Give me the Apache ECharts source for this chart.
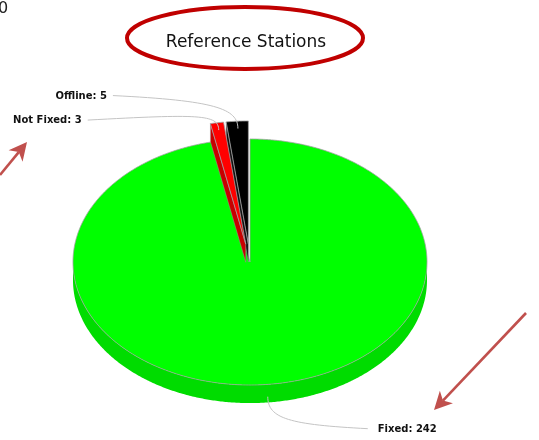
<!DOCTYPE html>
<html><head><meta charset="utf-8">
<script src="https://cdn.jsdelivr.net/npm/echarts@6/dist/echarts.min.js"></script>
<style>html,body{margin:0;padding:0;background:#fff;overflow:hidden}#c{width:539px;height:440px}</style>
</head><body><div id="c"></div>
<script>
// ---- data ----
const categories = ['Offline', 'Not Fixed', 'Fixed'];
const values = [5, 3, 242];
const titleText = 'Reference Stations';

// ---- styles ----
const colors = ['#000000', '#ff0000', '#00ff00'];
const sideColors = ['#111111', '#c80000', '#00dc00'];
const drawOrder = [2, 0, 1];
const DEPTH = 0.147;
const explode = [0.147, 0.147, 0];
const leader = [
  {r: 0.94, drop: 0, cp1: [0, -20], cp2: [-23, -28], end: [-125, -33], align: 'right', gap: -6},
  {r: 0.94, drop: 0, cp1: [0, -16], cp2: [-20, -16], end: [-131, -10], align: 'right', gap: -6},
  {r: 1, drop: 0.1, cp1: [0, 22], cp2: [22, 28], end: [100, 32], align: 'left', gap: 10}
];

const total = values.reduce((a, b) => a + b, 0);
const slices = [];
let acc = 90;
values.forEach(v => { const span = v / total * 360; slices.push({start: acc, end: acc + span, mid: acc + span / 2}); acc += span; });

const rad = d => d * Math.PI / 180;

function renderItem(params, api) {
  const i = api.value(0);
  const s = slices[i];
  const e = explode[i];
  const ox = Math.cos(rad(s.mid)) * e, oy = Math.sin(rad(s.mid)) * e;
  const P = (a, r, dz) => api.coord([ox + r * Math.cos(rad(a)), oy + r * Math.sin(rad(a)) - (dz || 0)]);
  const arcPts = (a0, a1, dz) => {
    const pts = []; const n = Math.max(2, Math.ceil(Math.abs(a1 - a0) * 2));
    for (let k = 0; k <= n; k++) pts.push(P(a0 + (a1 - a0) * k / n, 1, dz));
    return pts;
  };
  const children = [];
  for (let k = -1; k <= 1; k++) {
    const lo = Math.max(s.start, 180 + 360 * k), hi = Math.min(s.end, 360 + 360 * k);
    if (lo < hi) {
      const pts = arcPts(lo, hi, 0).concat(arcPts(lo, hi, DEPTH).reverse());
      children.push({type: 'polygon', shape: {points: pts}, style: {fill: sideColors[i], stroke: null}});
    }
  }
  if (e > 0) {
    if (Math.sin(rad(s.end + 90)) < -1e-6) {
      children.push({type: 'polygon', shape: {points: [P(s.end, 0, 0), P(s.end, 1, 0), P(s.end, 1, DEPTH), P(s.end, 0, DEPTH)]},
        style: {fill: sideColors[i], stroke: '#999', lineWidth: 0.5}});
    }
    if (Math.sin(rad(s.start - 90)) < -1e-6) {
      children.push({type: 'polygon', shape: {points: [P(s.start, 0, 0), P(s.start, 1, 0), P(s.start, 1, DEPTH), P(s.start, 0, DEPTH)]},
        style: {fill: sideColors[i], stroke: '#999', lineWidth: 0.5}});
    }
  }
  const top = [P(s.mid, 0, 0)].concat(arcPts(s.start, s.end, 0));
  children.push({type: 'polygon', shape: {points: top}, style: {fill: colors[i], stroke: '#a0a0a0', lineWidth: 0.8}});
  const L = leader[i];
  const S = P(s.mid, L.r, L.drop);
  const E = [S[0] + L.end[0], S[1] + L.end[1]];
  children.push({type: 'bezierCurve', shape: {x1: S[0], y1: S[1], cpx1: S[0] + L.cp1[0], cpy1: S[1] + L.cp1[1],
    cpx2: S[0] + L.cp2[0], cpy2: S[1] + L.cp2[1], x2: E[0], y2: E[1]}, style: {fill: null, stroke: '#c4c4c4', lineWidth: 1}});
  children.push({type: 'text', x: E[0] + L.gap, y: E[1] + 0.5, style: {text: categories[i] + ': ' + values[i],
    font: 'bold 10px "DejaVu Sans"', fill: '#111', align: L.align, textAlign: L.align, verticalAlign: 'middle', textVerticalAlign: 'middle'}});
  return {type: 'group', children};
}

function arrow(x0, y0, x1, y1) {
  const dx = x1 - x0, dy = y1 - y0, len = Math.hypot(dx, dy);
  const ux = dx / len, uy = dy / len, nx = -uy, ny = ux;
  const hl = 18, hw = 9;
  const bx = x1 - ux * hl, by = y1 - uy * hl;
  const nxb = x1 - ux * (hl - 5), nyb = y1 - uy * (hl - 5);
  return [
    {type: 'line', shape: {x1: x0, y1: y0, x2: nxb, y2: nyb}, style: {stroke: '#c0504d', lineWidth: 2.6}},
    {type: 'polygon', shape: {points: [[x1, y1], [bx + nx * hw, by + ny * hw], [nxb, nyb], [bx - nx * hw, by - ny * hw]]},
      style: {fill: '#c0504d'}}
  ];
}

const chart = echarts.init(document.getElementById('c'));
chart.setOption({
  animation: false,
  title: {text: titleText, left: 241, top: 29, textAlign: 'center',
    textStyle: {fontSize: 17, fontWeight: 'normal', fontFamily: '"DejaVu Sans"', color: '#111'}},
  grid: {left: 73, top: 139, width: 354, height: 246},
  xAxis: {type: 'value', min: -1, max: 1, show: false},
  yAxis: {type: 'value', min: -1, max: 1, show: false},
  series: [{
    type: 'custom', coordinateSystem: 'cartesian2d', clip: false,
    renderItem: renderItem,
    data: drawOrder.map(i => ({name: categories[i], value: [i, values[i]]}))
  }],
  graphic: [
    {type: 'ellipse', shape: {cx: 245, cy: 38, rx: 118, ry: 31}, style: {fill: null, stroke: '#c00000', lineWidth: 4}},
    {type: 'text', x: -2, y: 9, style: {text: '0', font: '16px "DejaVu Sans"', fill: '#222', verticalAlign: 'middle'}}
  ].concat(arrow(0, 175, 27, 142), arrow(526, 313, 434, 410))
});
</script>
</body></html>
